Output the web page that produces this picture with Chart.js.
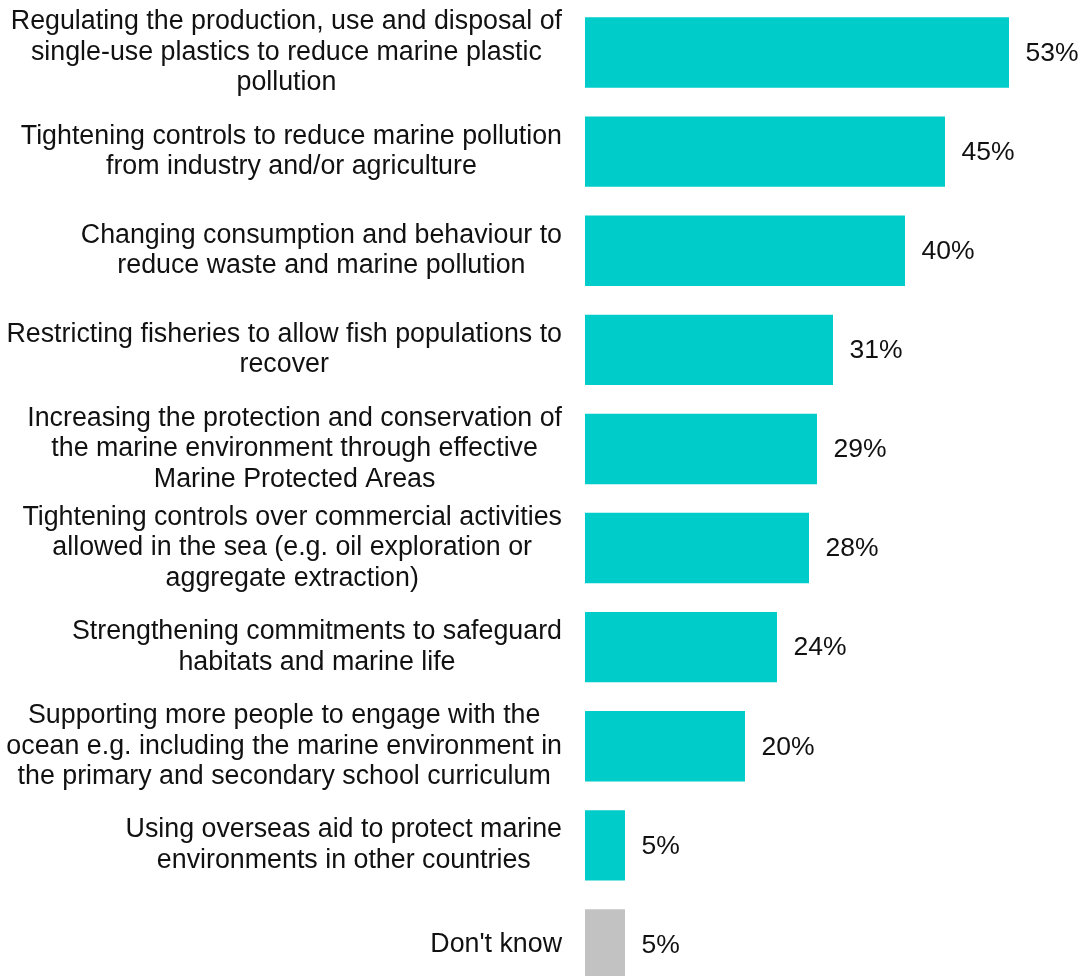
<!DOCTYPE html>
<html>
<head>
<meta charset="utf-8">
<script src="https://cdn.jsdelivr.net/npm/chart.js@4/dist/chart.umd.min.js"></script>
<style>
  html, body { margin: 0; padding: 0; background: #fff; overflow: hidden; }
  #wrap { width: 1086px; height: 994px; }
</style>
</head>
<body>
<div id="wrap"><canvas id="grafico" width="1086" height="994"></canvas></div>
<script>
// rótulos das categorias, já quebrados em linhas
const categorias = [
  ["Regulating the production, use and disposal of", "single-use plastics to reduce marine plastic", "pollution"],
  ["Tightening controls to reduce marine pollution", "from industry and/or agriculture"],
  ["Changing consumption and behaviour to", "reduce waste and marine pollution"],
  ["Restricting fisheries to allow fish populations to", "recover"],
  ["Increasing the protection and conservation of", "the marine environment through effective", "Marine Protected Areas"],
  ["Tightening controls over commercial activities", "allowed in the sea (e.g. oil exploration or", "aggregate extraction)"],
  ["Strengthening commitments to safeguard", "habitats and marine life"],
  ["Supporting more people to engage with the", "ocean e.g. including the marine environment in", "the primary and secondary school curriculum"],
  ["Using overseas aid to protect marine", "environments in other countries"],
  ["Don't know"]
];
const valores = [53, 45, 40, 31, 29, 28, 24, 20, 5, 5];
const coresBarras = ["#00CCCA", "#00CCCA", "#00CCCA", "#00CCCA", "#00CCCA", "#00CCCA", "#00CCCA", "#00CCCA", "#00CCCA", "#C3C2C3"];

const FONTE = '"Liberation Sans", Arial, sans-serif';

// desenha os textos das categorias à esquerda, centralizados em bloco e alinhados à direita
const rotulosCategoria = {
  id: 'rotulosCategoria',
  afterDraw(chart) {
    const ctx = chart.ctx;
    const y = chart.scales.y;
    const bordaDireita = 562;
    const entrelinha = 30.5;
    ctx.save();
    ctx.font = '26.8px ' + FONTE;
    ctx.fillStyle = '#111';
    ctx.textAlign = 'center';
    ctx.textBaseline = 'middle';
    categorias.forEach((linhas, i) => {
      const cy = y.getPixelForValue(i);
      let larg = 0;
      linhas.forEach(l => { larg = Math.max(larg, ctx.measureText(l).width); });
      const cx = bordaDireita - larg / 2;
      const topo = cy - (linhas.length - 1) * entrelinha / 2;
      linhas.forEach((l, k) => ctx.fillText(l, cx, topo + k * entrelinha));
    });
    ctx.restore();
  }
};

// percentuais ao lado de cada barra
const rotulosValor = {
  id: 'rotulosValor',
  afterDatasetsDraw(chart) {
    const ctx = chart.ctx;
    const meta = chart.getDatasetMeta(0);
    ctx.save();
    ctx.font = '26.5px ' + FONTE;
    ctx.fillStyle = '#111';
    ctx.textAlign = 'left';
    ctx.textBaseline = 'middle';
    meta.data.forEach((bar, i) => {
      ctx.fillText(valores[i] + '%', bar.x + 16.5, bar.y + 1);
    });
    ctx.restore();
  }
};

new Chart(document.getElementById('grafico'), {
  type: 'bar',
  data: {
    labels: categorias.map(c => c.join(' ')),
    datasets: [{
      data: valores,
      backgroundColor: coresBarras,
      borderWidth: 0,
      barPercentage: 0.71,
      categoryPercentage: 1
    }]
  },
  options: {
    indexAxis: 'y',
    responsive: false,
    animation: false,
    devicePixelRatio: 1,
    layout: { padding: { left: 585, right: 21, top: 3, bottom: 0 } },
    plugins: { legend: { display: false }, tooltip: { enabled: false } },
    scales: {
      x: { min: 0, max: 60, display: false, grid: { display: false } },
      y: { display: false, grid: { display: false } }
    }
  },
  plugins: [rotulosCategoria, rotulosValor]
});
</script>
</body>
</html>
